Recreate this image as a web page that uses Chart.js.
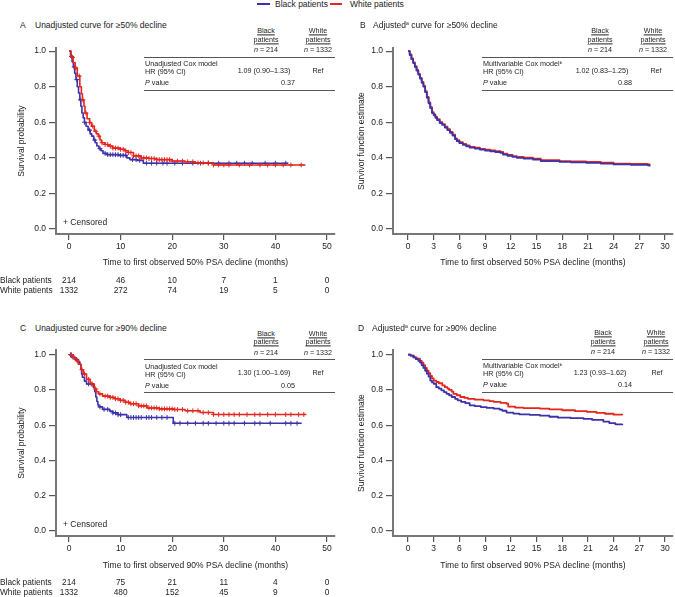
<!DOCTYPE html>
<html>
<head>
<meta charset="utf-8">
<script src="https://cdn.jsdelivr.net/npm/chart.js@4.4.0/dist/chart.umd.min.js"></script>
<style>
body { margin: 0; background: #fff; }
#wrap { position: relative; width: 675px; height: 597px; overflow: hidden; font-family: "Liberation Sans", Arial, sans-serif; color: #222; }
canvas { position: absolute; }
.t { position: absolute; white-space: nowrap; line-height: 1; font-size: 8.5px; transform: translateY(-50%); }
.c { transform: translate(-50%, -50%); }
.r { transform: translate(-100%, -50%); }
.tb { font-size: 7.2px; }
.u { text-decoration: underline; }
.rule { position: absolute; height: 1px; background: #555; }
.key { position: absolute; height: 2px; }
sup { font-size: 60%; line-height: 0; vertical-align: 0.5em; }
</style>
</head>
<body>
<div id="wrap">
  <canvas id="cA" width="340" height="260" style="left:0;top:40px"></canvas>
  <canvas id="cB" width="338" height="235" style="left:337px;top:40px"></canvas>
  <canvas id="cC" width="340" height="255" style="left:0;top:342px"></canvas>
  <canvas id="cD" width="338" height="235" style="left:337px;top:342px"></canvas>
</div>
<script>
const FONT = '"Liberation Sans", Arial, sans-serif';
const blue = '#3c32aa';
const red = '#e4261c';

const xTicksLong = [0, 10, 20, 30, 40, 50];
const xTicksShort = [0, 3, 6, 9, 12, 15, 18, 21, 24, 27, 30];
const yTicks = [0, 0.2, 0.4, 0.6, 0.8, 1.0];

// A: unadjusted, >=50% decline
const aBlackT = [0, 0.3, 0.6, 0.85, 1.1, 1.35, 1.6, 1.85, 2.1, 2.3, 2.5, 2.75, 3.0, 3.3, 3.7, 4.1, 4.4, 4.8, 5.1, 5.4, 5.8, 6.2, 6.6, 7.4, 9.6, 11.2, 11.8, 13.2, 14.4, 42.5];
const aBlackS = [1.0, 0.97, 0.94, 0.911, 0.875, 0.84, 0.80, 0.765, 0.726, 0.69, 0.652, 0.625, 0.60, 0.578, 0.556, 0.535, 0.522, 0.50, 0.485, 0.467, 0.452, 0.44, 0.425, 0.418, 0.414, 0.40, 0.39, 0.386, 0.37, 0.37];
const aWhiteT = [0, 0.4, 0.8, 1.2, 1.6, 2.1, 2.4, 2.6, 2.9, 3.1, 3.5, 4.0, 4.4, 4.9, 5.3, 5.7, 6.0, 6.3, 7.0, 7.6, 8.5, 9.9, 10.8, 11.5, 12.5, 14.0, 15.5, 17.0, 20.0, 22.5, 24.5, 28.0, 45.7];
const aWhiteS = [1.0, 0.965, 0.935, 0.905, 0.86, 0.80, 0.76, 0.726, 0.69, 0.652, 0.62, 0.598, 0.578, 0.55, 0.535, 0.522, 0.50, 0.485, 0.475, 0.467, 0.455, 0.448, 0.44, 0.43, 0.411, 0.40, 0.396, 0.39, 0.382, 0.378, 0.372, 0.36, 0.356];
const aBlackCens = [0.5, 1.0, 1.5, 2.2, 3.0, 4.0, 5.0, 6.0, 7.0, 7.5, 8.0, 8.5, 9.0, 9.5, 10.0, 10.5, 11.0, 12.3, 13.0, 13.7, 15.0, 16.0, 17.0, 18.2, 19.0, 20.5, 22.0, 24.0, 25.5, 27.0, 29.0, 31.0, 32.5, 34.0, 35.5, 38.0, 40.0, 42.0];
const aWhiteCens = [0.7, 1.3, 2.0, 2.7, 3.3, 4.0, 4.6, 5.2, 5.8, 6.4, 7.0, 7.5, 8.0, 8.5, 9.0, 9.5, 10.0, 10.5, 11.0, 11.5, 12.0, 12.5, 13.0, 13.5, 14.0, 14.5, 15.0, 15.5, 16.0, 16.5, 17.0, 17.5, 18.0, 18.5, 19.0, 19.5, 20.0, 21.0, 22.0, 23.0, 24.0, 25.0, 26.0, 27.0, 28.0, 29.0, 30.0, 31.0, 33.0, 35.0, 37.0, 38.5, 40.0, 41.5, 43.0, 45.0];
const aRiskBlack = [214, 46, 10, 7, 1, 0];
const aRiskWhite = [1332, 272, 74, 19, 5, 0];

// B: adjusted, >=50% decline
const bBlackT = [0, 0.2, 0.4, 0.6, 0.8, 1.0, 1.2, 1.4, 1.6, 1.8, 2.0, 2.2, 2.4, 2.6, 2.8, 3.0, 3.2, 3.4, 3.7, 4.0, 4.3, 4.6, 4.9, 5.2, 5.5, 5.7, 6.0, 6.4, 6.8, 7.2, 7.8, 8.4, 9.0, 9.6, 10.2, 10.8, 11.1, 11.6, 12.2, 12.7, 13.5, 14.6, 15.5, 17.7, 19.0, 20.8, 22.5, 24.0, 26.0, 28.0, 28.2];
const bBlackS = [1.0, 0.978, 0.955, 0.933, 0.911, 0.89, 0.868, 0.845, 0.822, 0.80, 0.77, 0.738, 0.707, 0.68, 0.652, 0.64, 0.625, 0.612, 0.596, 0.585, 0.57, 0.556, 0.541, 0.525, 0.505, 0.494, 0.483, 0.473, 0.465, 0.457, 0.452, 0.446, 0.441, 0.437, 0.433, 0.428, 0.418, 0.412, 0.405, 0.40, 0.396, 0.39, 0.382, 0.377, 0.375, 0.372, 0.368, 0.363, 0.361, 0.358, 0.352];
const bWhiteT = [0, 0.2, 0.4, 0.6, 0.8, 1.0, 1.2, 1.4, 1.6, 1.8, 2.0, 2.2, 2.4, 2.6, 2.8, 3.0, 3.2, 3.4, 3.7, 4.0, 4.3, 4.6, 4.9, 5.2, 5.5, 5.7, 6.0, 6.4, 6.8, 7.2, 7.8, 8.4, 9.0, 9.6, 10.2, 10.8, 11.1, 11.6, 12.2, 12.7, 13.5, 14.6, 15.5, 17.7, 19.0, 20.8, 22.5, 24.0, 26.0, 28.0, 28.2];
const bWhiteS = [1.0, 0.981, 0.959, 0.937, 0.915, 0.894, 0.872, 0.85, 0.827, 0.805, 0.775, 0.743, 0.712, 0.685, 0.657, 0.645, 0.63, 0.617, 0.601, 0.59, 0.575, 0.561, 0.546, 0.53, 0.51, 0.499, 0.488, 0.478, 0.47, 0.462, 0.457, 0.451, 0.446, 0.442, 0.438, 0.433, 0.423, 0.417, 0.41, 0.405, 0.401, 0.395, 0.387, 0.382, 0.38, 0.377, 0.373, 0.368, 0.366, 0.363, 0.36];

// C: unadjusted, >=90% decline
const cBlackT = [0, 0.5, 1.2, 1.8, 2.1, 2.3, 2.45, 2.6, 3.0, 3.4, 4.7, 5.0, 5.2, 5.4, 5.6, 5.8, 6.5, 7.9, 8.5, 9.5, 11.2, 20.2, 45.1];
const cBlackS = [1.0, 0.985, 0.972, 0.96, 0.946, 0.92, 0.89, 0.872, 0.85, 0.834, 0.816, 0.79, 0.76, 0.735, 0.715, 0.704, 0.69, 0.68, 0.67, 0.66, 0.644, 0.611, 0.611];
const cWhiteT = [0, 0.8, 1.4, 1.8, 2.3, 2.8, 3.4, 4.1, 4.9, 5.3, 5.7, 6.5, 7.9, 8.9, 9.9, 10.9, 11.8, 13.5, 15.1, 17.5, 20.2, 22.5, 25.4, 28.0, 46.0];
const cWhiteS = [1.0, 0.983, 0.965, 0.946, 0.915, 0.89, 0.86, 0.834, 0.805, 0.79, 0.778, 0.765, 0.758, 0.75, 0.741, 0.73, 0.722, 0.71, 0.698, 0.693, 0.689, 0.682, 0.672, 0.661, 0.661];
const cBlackCens = [0.3, 0.8, 1.5, 3.8, 4.3, 6.0, 6.8, 7.5, 8.5, 9.0, 9.5, 10.0, 11.5, 12.0, 12.5, 13.0, 13.5, 14.0, 15.0, 15.5, 16.0, 17.0, 18.0, 19.0, 20.5, 21.5, 23.0, 24.5, 26.0, 27.0, 28.5, 30.0, 31.0, 32.0, 34.0, 36.0, 37.0, 39.0, 42.0, 43.0, 44.2];
const cWhiteCens = [0.5, 1.0, 1.6, 2.5, 3.0, 3.8, 4.5, 5.2, 6.0, 7.0, 7.5, 8.0, 8.5, 9.0, 9.5, 10.0, 10.5, 11.0, 11.5, 12.0, 12.5, 13.0, 13.5, 14.0, 14.5, 15.0, 15.5, 16.0, 16.5, 17.0, 17.5, 18.0, 18.5, 19.0, 19.5, 20.0, 20.5, 21.0, 22.0, 23.0, 24.0, 25.0, 26.0, 27.0, 28.0, 29.0, 30.0, 31.0, 32.0, 33.0, 34.5, 36.0, 37.0, 38.5, 40.0, 42.0, 43.0, 44.5, 45.5];
const cRiskBlack = [214, 75, 21, 11, 4, 0];
const cRiskWhite = [1332, 480, 152, 45, 9, 0];

// D: adjusted, >=90% decline
const dBlackT = [0, 0.3, 0.6, 0.9, 1.2, 1.4, 1.6, 1.8, 2.0, 2.2, 2.4, 2.6, 2.8, 3.0, 3.3, 3.6, 3.9, 4.2, 4.5, 4.8, 5.1, 5.5, 5.8, 6.2, 6.7, 7.2, 7.8, 8.5, 9.2, 10.0, 10.7, 11.0, 11.5, 12.3, 13.0, 14.2, 15.4, 16.5, 17.5, 19.0, 20.5, 21.5, 22.8, 23.5, 24.2, 25.0];
const dBlackS = [1.0, 0.995, 0.985, 0.975, 0.965, 0.955, 0.94, 0.925, 0.909, 0.893, 0.876, 0.853, 0.843, 0.835, 0.816, 0.808, 0.798, 0.788, 0.778, 0.77, 0.76, 0.75, 0.741, 0.733, 0.725, 0.713, 0.708, 0.703, 0.698, 0.694, 0.688, 0.682, 0.672, 0.666, 0.662, 0.659, 0.655, 0.648, 0.643, 0.64, 0.636, 0.63, 0.62, 0.612, 0.605, 0.60];
const dWhiteT = [0, 0.3, 0.7, 1.0, 1.4, 1.6, 1.8, 2.0, 2.2, 2.4, 2.6, 2.8, 3.0, 3.3, 3.6, 4.0, 4.3, 4.6, 4.8, 5.1, 5.3, 5.7, 6.1, 6.6, 7.0, 7.8, 8.8, 9.5, 10.0, 10.8, 11.5, 11.7, 12.5, 13.5, 15.4, 16.5, 18.0, 19.5, 20.9, 22.0, 23.0, 24.0, 25.0];
const dWhiteS = [1.0, 0.995, 0.985, 0.977, 0.965, 0.955, 0.94, 0.925, 0.909, 0.895, 0.88, 0.866, 0.853, 0.845, 0.838, 0.826, 0.816, 0.808, 0.80, 0.79, 0.778, 0.77, 0.76, 0.755, 0.75, 0.745, 0.741, 0.737, 0.732, 0.727, 0.722, 0.705, 0.70, 0.697, 0.694, 0.69, 0.685, 0.68, 0.676, 0.67, 0.665, 0.66, 0.657];

function pts(ts, ss) { return ts.map((t, i) => ({ x: t, y: ss[i] })); }
function survAt(ts, ss, t) {
  let s = ss[0];
  for (let i = 0; i < ts.length; i++) if (ts[i] <= t) s = ss[i];
  return s;
}
function cens(times, ts, ss) { return times.map(t => ({ x: t, y: survAt(ts, ss, t) })); }

function lineSet(data, color, w) {
  return { data, showLine: true, stepped: true, borderColor: color, borderWidth: w, borderJoinStyle: 'round', pointRadius: 0, fill: false };
}
function censSet(data, color) {
  return { data, showLine: false, pointStyle: 'cross', pointRadius: 2.4, borderColor: color, pointBorderColor: color, pointBorderWidth: 1 };
}

// numbers at risk under the x axis
const riskPlugin = {
  id: 'risk',
  afterDraw(chart, args, o) {
    if (!o.rows) return;
    const ctx = chart.ctx, xs = chart.scales.x;
    ctx.save();
    ctx.fillStyle = '#222';
    ctx.font = '8.3px ' + FONT;
    ctx.textBaseline = 'middle';
    o.rows.forEach(r => {
      ctx.textAlign = 'left';
      ctx.fillText(r.label, 0, r.y);
      ctx.textAlign = 'center';
      r.values.forEach((v, i) => ctx.fillText(String(v), xs.getPixelForValue(o.times[i]), r.y));
    });
    ctx.restore();
  }
};

function kmChart(id, cfg) {
  const border = { color: '#777', width: 2 };
  return new Chart(document.getElementById(id), {
    type: 'scatter',
    data: { datasets: cfg.sets },
    options: {
      responsive: false,
      animation: false,
      devicePixelRatio: 1,
      layout: { padding: cfg.pad },
      plugins: { legend: { display: false }, tooltip: { enabled: false }, risk: cfg.risk || {} },
      scales: {
        x: {
          type: 'linear', min: cfg.xmin, max: cfg.xmax,
          afterBuildTicks: s => { s.ticks = cfg.xticks.map(v => ({ value: v })); },
          afterFit: s => { s.height = cfg.xh; },
          ticks: { color: '#222', font: { size: 8.5, family: FONT }, padding: 2, maxRotation: 0, autoSkip: false, callback: v => String(v) },
          grid: { drawOnChartArea: false, tickLength: 6, color: '#555', lineWidth: 1.2 },
          border: border,
          title: { display: true, text: cfg.xtitle, color: '#222', font: { size: 8.5, family: FONT }, padding: 0 }
        },
        y: {
          type: 'linear', min: -0.028, max: cfg.ymax,
          afterBuildTicks: s => { s.ticks = yTicks.map(v => ({ value: v })); },
          afterFit: s => { s.width = 56; },
          ticks: { color: '#222', font: { size: 8.5, family: FONT }, padding: 3, callback: v => v.toFixed(1) },
          grid: { drawOnChartArea: false, tickLength: 7, color: '#555', lineWidth: 1.2 },
          border: border,
          title: { display: true, text: cfg.ytitle, color: '#222', font: { size: 8.5, family: FONT }, padding: { top: cfg.ytp, bottom: 0 } }
        }
      }
    },
    plugins: [riskPlugin]
  });
}

kmChart('cA', {
  sets: [
    censSet(cens(aWhiteCens, aWhiteT, aWhiteS), red),
    lineSet(pts(aWhiteT, aWhiteS), red, 1.6),
    censSet(cens(aBlackCens, aBlackT, aBlackS), blue),
    lineSet(pts(aBlackT, aBlackS), blue, 1.6)
  ],
  pad: { left: 0, right: 5, top: 6, bottom: 32 },
  xmin: -2.52, xmax: 51.55, xticks: xTicksLong, xh: 34, ymax: 1.017, ytp: 17,
  xtitle: 'Time to first observed 50% PSA decline (months)',
  ytitle: 'Survival probability',
  risk: { times: xTicksLong, rows: [
    { label: 'Black patients', values: aRiskBlack, y: 241 },
    { label: 'White patients', values: aRiskWhite, y: 251 }
  ] }
});

kmChart('cB', {
  sets: [
    lineSet(pts(bBlackT, bBlackS), blue, 1.8),
    lineSet(pts(bWhiteT, bWhiteS), red, 1.8)
  ],
  pad: { left: 0, right: 2, top: 6, bottom: 7 },
  xmin: -1.75, xmax: 30.93, xticks: xTicksShort, xh: 34, ymax: 1.017, ytp: 20,
  xtitle: 'Time to first observed 50% PSA decline (months)',
  ytitle: 'Survivor function estimate'
});

kmChart('cC', {
  sets: [
    censSet(cens(cWhiteCens, cWhiteT, cWhiteS), red),
    lineSet(pts(cWhiteT, cWhiteS), red, 1.6),
    censSet(cens(cBlackCens, cBlackT, cBlackS), blue),
    lineSet(pts(cBlackT, cBlackS), blue, 1.6)
  ],
  pad: { left: 0, right: 5, top: 5, bottom: 26 },
  xmin: -2.52, xmax: 51.55, xticks: xTicksLong, xh: 35, ymax: 1.026, ytp: 17,
  xtitle: 'Time to first observed 90% PSA decline (months)',
  ytitle: 'Survival probability',
  risk: { times: xTicksLong, rows: [
    { label: 'Black patients', values: cRiskBlack, y: 241 },
    { label: 'White patients', values: cRiskWhite, y: 251 }
  ] }
});

kmChart('cD', {
  sets: [
    lineSet(pts(dBlackT, dBlackS), blue, 1.8),
    lineSet(pts(dWhiteT, dWhiteS), red, 1.8)
  ],
  pad: { left: 0, right: 2, top: 5, bottom: 6 },
  xmin: -1.75, xmax: 30.93, xticks: xTicksShort, xh: 35, ymax: 1.026, ytp: 20,
  xtitle: 'Time to first observed 90% PSA decline (months)',
  ytitle: 'Survivor function estimate'
});

// text overlays: legend, panel titles, HR tables
const wrap = document.getElementById('wrap');
function put(html, x, y, cls) {
  const d = document.createElement('div');
  d.className = 't ' + (cls || '');
  d.style.left = x + 'px';
  d.style.top = y + 'px';
  d.innerHTML = html;
  wrap.appendChild(d);
}
function bar(cls, x0, x1, y, color) {
  const d = document.createElement('div');
  d.className = cls;
  d.style.left = x0 + 'px';
  d.style.width = (x1 - x0) + 'px';
  d.style.top = y + 'px';
  if (color) d.style.background = color;
  wrap.appendChild(d);
}

bar('key', 257, 270, 3, blue);
put('Black patients', 275, 4, '');
bar('key', 330, 342, 3, red);
put('White patients', 350, 4, '');

put('A', 20, 25); put('Unadjusted curve for ≥50% decline', 35, 25);
put('B', 360, 25); put('Adjusted<sup>a</sup> curve for ≥50% decline', 373, 25);
put('C', 20, 328); put('Unadjusted curve for ≥90% decline', 35, 328);
put('D', 358, 328); put('Adjusted<sup>a</sup> curve for ≥90% decline', 372, 328);

put('+ Censored', 63, 222);
put('+ Censored', 63, 524);

const tables = [
  { dy: 0, x0: 144, x1: 335, bx: 266, wx: 318, lab: 'Unadjusted Cox model', hr: '1.09 (0.90–1.33)', vx: 264, rx: 318, p: '0.37', px: 295 },
  { dy: 0, x0: 482, x1: 673, bx: 600, wx: 653, lab: 'Multivariable Cox model<sup>b</sup>', hr: '1.02 (0.83–1.25)', vx: 602, rx: 656, p: '0.88', px: 632 },
  { dy: 302.5, x0: 144, x1: 335, bx: 266, wx: 318, lab: 'Unadjusted Cox model', hr: '1.30 (1.00–1.69)', vx: 264, rx: 318, p: '0.05', px: 295 },
  { dy: 302, x0: 482, x1: 673, bx: 603, wx: 656, lab: 'Multivariable Cox model<sup>b</sup>', hr: '1.23 (0.93–1.62)', vx: 600, rx: 657, p: '0.14', px: 632 }
];
tables.forEach(t => {
  const y = v => v + t.dy;
  put('<span class="u">Black</span>', t.bx, y(31), 'c tb');
  put('<span class="u">patients</span>', t.bx, y(39.5), 'c tb');
  put('<i>n</i> = 214', t.bx, y(50), 'c tb');
  put('<span class="u">White</span>', t.wx, y(31), 'c tb');
  put('<span class="u">patients</span>', t.wx, y(39.5), 'c tb');
  put('<i>n</i> = 1332', t.wx, y(50), 'c tb');
  bar('rule', t.x0, t.x1, y(56.5));
  put(t.lab, t.x0 + 1, y(64), 'tb');
  put('HR (95% CI)', t.x0 + 1, y(72), 'tb');
  put(t.hr, t.vx, y(70.5), 'c tb');
  put('Ref', t.rx, y(70.5), 'c tb');
  put('<i>P</i> value', t.x0 + 1, y(83), 'tb');
  put(t.p, t.px, y(83), 'r tb');
  bar('rule', t.x0, t.x1, y(89.5));
});
</script>
</body>
</html>
